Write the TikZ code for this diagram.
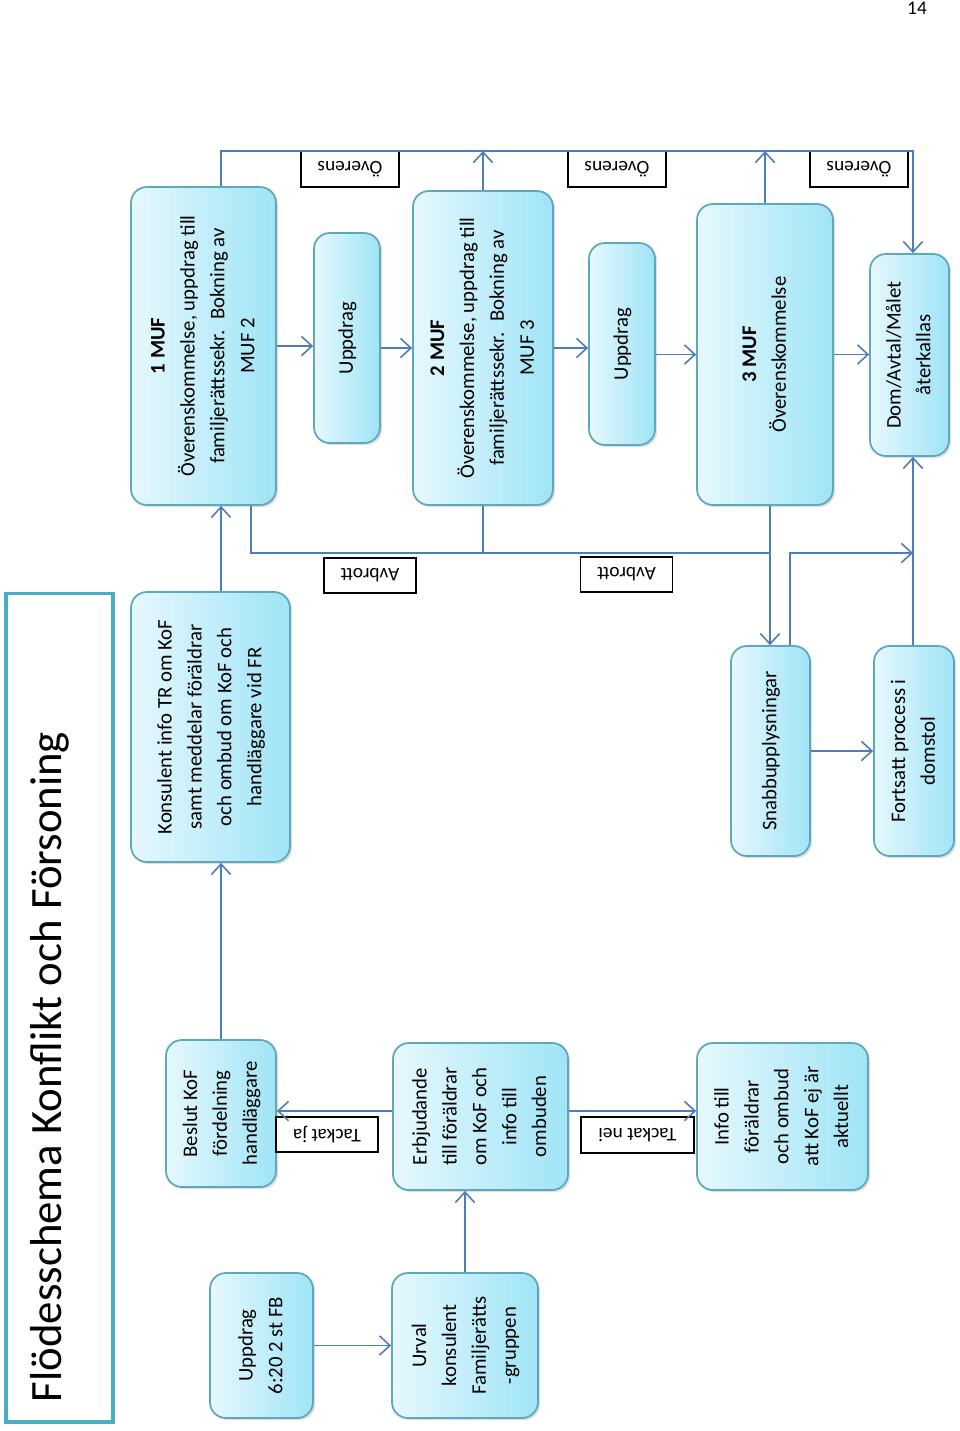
\documentclass[tikz,border=0pt]{standalone}
\usepackage{fontspec}
\setmainfont{Carlito}
\usetikzlibrary{arrows.meta,shadows,calc}
\definecolor{boxline}{HTML}{5FA8BC}
\definecolor{boxlight}{HTML}{E6F8FD}
\definecolor{boxdark}{HTML}{9FE4F6}
\definecolor{connline}{HTML}{4F7CBA}
\definecolor{titleline}{HTML}{4BACC6}
\newcommand{\vlines}[1]{\rotatebox{90}{\fontsize{11.8}{17}\selectfont\begin{tabular}{@{}c@{}}#1\end{tabular}}}
\tikzset{
  box/.style={draw=boxline, line width=1pt, rounded corners=9pt, left color=boxlight, right color=boxdark, inner sep=0pt,
    drop shadow={shadow xshift=1.2pt, shadow yshift=-1.2pt, opacity=0.25}},
  lbl/.style={draw=black, fill=white, line width=0.6pt, inner sep=0pt, rotate=180, font=\fontsize{11}{13}\selectfont},
  conn/.style={draw=connline, line width=0.9pt},
  arr/.style={conn, -{Straight Barb[length=6pt,width=11pt]}}
}

\begin{document}
\begin{tikzpicture}[x=0.02cm, y=-0.02cm]
  \useasboundingbox (0,0) rectangle (960,1431);
  \node[draw=titleline, line width=1.8pt, minimum width=2.14cm, minimum height=16.58cm, inner sep=0pt] (frame) at (59.5,1007.5) {};
  \node[inner sep=0pt] (title) at (50,1067) {\rotatebox{90}{\fontsize{25.5}{30}\selectfont Flödesschema Konflikt och Försoning}};
  \node[font=\fontsize{11}{13}\selectfont] (pnum) at (917,8) {14};

  \node[box, minimum width=2.9cm, minimum height=6.36cm] (muf1) at (203.5,346) {\vlines{\textbf{1 MUF}\\Överenskommelse, uppdrag till\\familjerättssekr.~ Bokning av\\MUF 2}};
  \node[box, minimum width=1.32cm, minimum height=4.2cm] (upp1) at (347,338) {\vlines{Uppdrag}};
  \node[box, minimum width=2.8cm, minimum height=6.28cm] (muf2) at (483,348) {\vlines{\textbf{2 MUF}\\Överenskommelse, uppdrag till\\familjerättssekr.~ Bokning av\\MUF 3}};
  \node[box, minimum width=1.32cm, minimum height=4.04cm] (upp2) at (622,344) {\vlines{Uppdrag}};
  \node[box, minimum width=2.72cm, minimum height=6.02cm] (muf3) at (765,354.5) {\vlines{\textbf{3 MUF}\\Överenskommelse}};
  \node[box, minimum width=1.58cm, minimum height=4.04cm] (dom) at (909.5,355) {\vlines{Dom/Avtal/Målet\\återkallas}};
  \node[box, minimum width=3.18cm, minimum height=5.4cm] (kons) at (210.5,727) {\vlines{Konsulent info TR om KoF\\samt meddelar föräldrar\\och ombud om KoF och\\handläggare vid FR}};
  \node[box, minimum width=1.58cm, minimum height=4.2cm] (snabb) at (770.5,751) {\vlines{Snabbupplysningar}};
  \node[box, minimum width=1.6cm, minimum height=4.2cm] (forts) at (914,751) {\vlines{Fortsatt process i\\domstol}};
  \node[box, minimum width=2.2cm, minimum height=2.94cm] (beslut) at (221,1113.5) {\vlines{Beslut KoF\\fördelning\\handläggare}};
  \node[box, minimum width=3.5cm, minimum height=2.94cm] (erbj) at (480.5,1116.5) {\vlines{Erbjudande\\till föräldrar\\om KoF och\\info till\\ombuden}};
  \node[box, minimum width=3.42cm, minimum height=2.94cm] (info) at (782.5,1116.5) {\vlines{Info till\\föräldrar\\och ombud\\att KoF ej är\\aktuellt}};
  \node[box, minimum width=2.06cm, minimum height=2.9cm] (upp620) at (261.5,1345.5) {\vlines{Uppdrag\\6:20 2 st FB}};
  \node[box, minimum width=2.92cm, minimum height=2.9cm] (urval) at (465,1345.5) {\vlines{Urval\\konsulent\\Familjerätts\\-gruppen}};

  \node[lbl, minimum width=2.04cm, minimum height=0.7cm] (ja) at (327,1134.5) {Tackat ja};
  \node[lbl, minimum width=2.26cm, minimum height=0.72cm] (nei) at (637.5,1135) {Tackat nei};
  \node[lbl, minimum width=1.84cm, minimum height=0.7cm] (avb1) at (370,575.5) {Avbrott};
  \node[lbl, minimum width=1.84cm, minimum height=0.7cm] (avb2) at (626.5,574.5) {Avbrott};
  \node[lbl, minimum width=1.96cm, minimum height=0.72cm] (ov1) at (350,169) {Överens};
  \node[lbl, minimum width=1.96cm, minimum height=0.72cm] (ov2) at (617,169) {Överens};
  \node[lbl, minimum width=1.96cm, minimum height=0.72cm] (ov3) at (859,169) {Överens};

  \coordinate (topl) at (221,151);
  \coordinate (topr) at (913,151);
  \coordinate (botl) at (251,553);
  \coordinate (botr) at (770,553);
  \coordinate (snl) at (790,553);
  \coordinate (jaline) at (0,1111);

  \draw[arr] (upp620) -- (urval);
  \draw[arr] (urval.north) -- (urval.north |- erbj.south);
  \draw[arr] (erbj.west |- jaline) -- (beslut.east |- jaline);
  \draw[arr] (erbj.east |- jaline) -- (info.west |- jaline);
  \draw[arr] (beslut.north) -- (beslut.north |- kons.south);
  \draw[arr] (kons.north -| beslut.north) -- (muf1.south -| beslut.north);
  \draw[arr] (muf1.east) -- (muf1.east -| upp1.west);
  \draw[arr] (upp1.east |- muf2.west) -- (muf2.west);
  \draw[arr] (muf2.east) -- (muf2.east -| upp2.west);
  \draw[arr] (upp2.east |- muf3.west) -- (muf3.west);
  \draw[arr] (muf3.east) -- (muf3.east -| dom.west);
  \draw[arr] (muf1.north -| topl) -- (topl) -- (topr) -- (dom.north -| topr);
  \draw[arr] (muf2.north) -- (muf2.north |- topl);
  \draw[arr] (muf3.north) -- (muf3.north |- topl);
  \draw[conn] (muf1.south -| botl) -- (botl) -- (botr);
  \draw[conn] (muf2.south) -- (muf2.south |- botl);
  \draw[arr] (muf3.south -| botr) -- (snabb.north -| botr);
  \draw[arr] (snabb.north -| snl) -- (snl) -- (snl -| topr);
  \draw[arr] (forts.north -| topr) -- (dom.south -| topr);
  \draw[arr] (snabb.east) -- (snabb.east -| forts.west);
\end{tikzpicture}
\end{document}
